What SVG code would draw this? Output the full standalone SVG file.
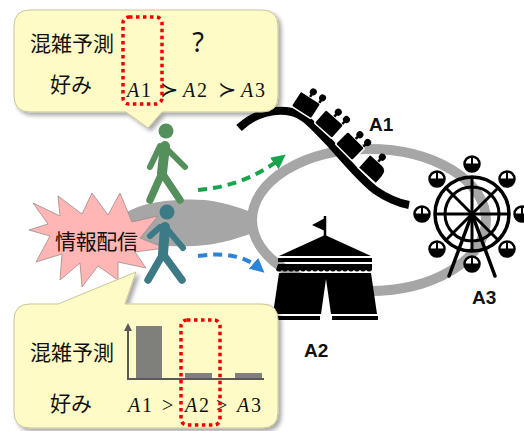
<svg xmlns="http://www.w3.org/2000/svg" width="524" height="431" viewBox="0 0 524 431">
  <defs>
    <filter id="shadow" x="-10%" y="-10%" width="125%" height="130%">
      <feGaussianBlur in="SourceAlpha" stdDeviation="2"/>
      <feOffset dx="3" dy="3" result="b"/>
      <feComponentTransfer><feFuncA type="linear" slope="0.35"/></feComponentTransfer>
      <feMerge><feMergeNode/><feMergeNode in="SourceGraphic"/></feMerge>
    </filter>
    <marker id="arrGreen" viewBox="0 0 10 10" refX="5" refY="5" markerWidth="3.6" markerHeight="3.6" orient="auto" markerUnits="strokeWidth">
      <path d="M0,0 L10,5 L0,10 Z" fill="#16a54a"/>
    </marker>
    <marker id="arrBlue" viewBox="0 0 10 10" refX="5" refY="5" markerWidth="3.6" markerHeight="3.6" orient="auto" markerUnits="strokeWidth">
      <path d="M0,0 L10,5 L0,10 Z" fill="#2b84d6"/>
    </marker>
    <g id="gondola">
      <circle r="7.5" fill="#fff" stroke="#000" stroke-width="2.5"/>
      <path d="M-7.5,0 A7.5,7.5 0 0 0 7.5,0 Z" fill="#000"/>
      <line x1="0" y1="-7" x2="0" y2="0" stroke="#000" stroke-width="2"/>
    </g>
    <g id="car">
      <rect x="-12" y="-9" width="24" height="18" rx="2" fill="#000" stroke="#fff" stroke-width="1.5"/>
      <line x1="-1" y1="-9" x2="-1" y2="-14" stroke="#000" stroke-width="2.5"/>
      <line x1="10" y1="-9" x2="10" y2="-14" stroke="#000" stroke-width="2.5"/>
      <circle cx="-1" cy="-15" r="3.5" fill="#000"/>
      <circle cx="10" cy="-15" r="3.5" fill="#000"/>
    </g>
  </defs>
  <style>
    .callout { fill: #fefbc6; stroke: #c9c59a; stroke-width: 1; }
    .jp { font-family: "Noto Sans CJK JP", "Noto Sans", sans-serif; font-size: 21px; fill: #111; }
    .math { font-family: "Liberation Serif", "DejaVu Serif", serif; font-size: 20px; fill: #111; }
    .mathi { font-style: italic; }
    .rel { font-family: "DejaVu Serif", "Liberation Serif", serif; font-size: 22px; }
    .label { font-family: "Liberation Sans", Arial, sans-serif; font-weight: bold; font-size: 19px; fill: #111; }
    .dotbox { fill: none; stroke: #f00000; stroke-width: 3.5; stroke-dasharray: 3.5 3.5; }
    .ring { fill: none; stroke: #a6a6a6; stroke-width: 10; }
    .limb { fill: none; stroke-linecap: round; stroke-linejoin: round; }
  </style>

  <rect width="524" height="431" fill="#fff"/>

  <!-- park path: crowd lens and loop -->
  <g id="park-path">
    <path d="M118,225 C118,205 170,197 205,200 C230,203 245,210 256,214 L256,232 C240,237 225,244 195,246 C150,248 118,240 118,225 Z" fill="#a6a6a6"/>
    <ellipse class="ring" cx="369" cy="220" rx="117" ry="71"/>
  </g>

  <!-- A1: roller coaster -->
  <g id="coaster">
    <path d="M239,128 C255,113 275,108 292,112 C305,115 315,128 330,143 C345,160 360,178 375,190 C388,199 398,203 409,205" fill="none" stroke="#000" stroke-width="8"/>
    <use href="#car" transform="translate(306,105) rotate(33)"/>
    <use href="#car" transform="translate(329,124) rotate(42)"/>
    <use href="#car" transform="translate(350,146) rotate(45)"/>
    <g transform="translate(373,169) rotate(42)">
      <path d="M-12,-9 H4 Q12,-9 12,0 V9 H-12 Z" fill="#000" stroke="#fff" stroke-width="1.5"/>
      <line x1="-1" y1="-9" x2="-1" y2="-14" stroke="#000" stroke-width="2.5"/>
      <circle cx="-1" cy="-15" r="3.5" fill="#000"/>
    </g>
    <text class="label" x="369" y="131">A1</text>
  </g>

  <!-- A3: ferris wheel -->
  <g id="ferris-wheel" stroke="#000" fill="none">
    <circle cx="472" cy="214" r="37" stroke-width="3.5"/>
    <circle cx="472" cy="214" r="27" stroke-width="3"/>
    <g stroke-width="3">
      <line x1="435" y1="214" x2="509" y2="214"/>
      <line x1="472" y1="177" x2="472" y2="251"/>
      <line x1="446" y1="188" x2="498" y2="240"/>
      <line x1="498" y1="188" x2="446" y2="240"/>
    </g>
    <g stroke-width="3.5" stroke-linecap="round">
      <line x1="472" y1="214" x2="449" y2="276"/>
      <line x1="472" y1="214" x2="495" y2="276"/>
    </g>
    <use href="#gondola" x="472" y="164"/>
    <use href="#gondola" x="507" y="179"/>
    <use href="#gondola" x="522" y="214"/>
    <use href="#gondola" x="507" y="249"/>
    <use href="#gondola" x="472" y="264"/>
    <use href="#gondola" x="437" y="249"/>
    <use href="#gondola" x="422" y="214"/>
    <use href="#gondola" x="437" y="179"/>
    <text class="label" x="472" y="304" stroke="none">A3</text>
  </g>

  <!-- A2: circus tent -->
  <g id="tent">
    <line x1="325" y1="237" x2="325" y2="216" stroke="#000" stroke-width="2.5"/>
    <polygon points="325,218 312,225 325,231" fill="#000"/>
    <polygon points="279,256 325,235 371,256" fill="#000"/>
    <rect x="278" y="258" width="94" height="4" fill="#000"/>
    <path d="M278,264 H372 V270 q-3,3 -6,0 q-3,3 -6,0 q-3,3 -6,0 q-3,3 -6,0 q-3,3 -6,0 q-3,3 -6,0 q-3,3 -6,0 q-3,3 -6,0 q-3,3 -6,0 q-3,3 -6,0 q-3,3 -6,0 q-3,3 -6,0 q-3,3 -6,0 q-3,3 -6,0 q-3,3 -6,0 q-3,3 -6,0 Z" fill="#000"/>
    <polygon points="279,273 371,273 377,314 273,314" fill="#000"/>
    <polygon points="326,279 321,314 331,314" fill="#fff"/>
    <rect x="273" y="316" width="47" height="4" fill="#000"/>
    <rect x="332" y="316" width="46" height="4" fill="#000"/>
    <text class="label" x="304" y="357">A2</text>
  </g>

  <!-- connectors -->
  <g id="connectors" fill="none" stroke-width="4" stroke-dasharray="9 6">
    <path d="M198,190 Q245,186 280,159" stroke="#16a54a" marker-end="url(#arrGreen)"/>
    <path d="M198,256 Q238,250 259,268" stroke="#2b84d6" marker-end="url(#arrBlue)"/>
  </g>

  <!-- information broadcast burst -->
  <g id="broadcast">
    <polygon points="29,230 50,236 36,262 62,254 60,280 80,263 82,287 98,266 118,280 118,262 146,268 135,252 165,248 140,238 158,216 132,222 120,193 108,215 92,193 82,214 58,196 60,216 33,203 48,224" fill="#ffb6b4" stroke="#a08a8a" stroke-width="0.8"/>
    <text class="jp" x="55" y="249" textLength="83">情報配信</text>
  </g>

  <!-- visitor who ignores congestion -->
  <g id="visitor-green" stroke="#548f5c" class="limb">
    <circle cx="166" cy="131" r="7.5" fill="#548f5c" stroke="none"/>
    <line x1="165" y1="146" x2="162" y2="173" stroke-width="10"/>
    <polyline points="150,167 160,146 166,148 185,167" stroke-width="6"/>
    <polyline points="150,200 162,173 180,200" stroke-width="7.5"/>
  </g>

  <!-- visitor who follows congestion forecast -->
  <g id="visitor-teal" stroke="#3c7b85" class="limb">
    <circle cx="167" cy="212" r="7.5" fill="#3c7b85" stroke="none"/>
    <line x1="165" y1="227" x2="163" y2="254" stroke-width="10"/>
    <polyline points="150,236 160,227 167,229 183,248" stroke-width="6"/>
    <polyline points="148,280 163,254 182,280" stroke-width="7.5"/>
  </g>

  <!-- callout: preference only -->
  <g id="callout-top" filter="url(#shadow)">
    <path class="callout" d="M30,10 H262 Q278,10 278,26 V96 Q278,112 262,112 H162 L148,128 L126,112 H30 Q14,112 14,96 V26 Q14,10 30,10 Z"/>
  </g>
  <g id="callout-top-text">
    <text class="jp" x="30" y="51">混雑予測</text>
    <text x="198" y="52" text-anchor="middle" font-family="'Noto Sans', 'Liberation Sans', sans-serif" font-size="27" fill="#111">?</text>
    <text class="jp" x="50" y="92">好み</text>
    <text class="math" y="97"><tspan class="mathi" x="127">A</tspan><tspan x="141">1</tspan><tspan class="rel" x="160">≻</tspan><tspan class="mathi" x="183">A</tspan><tspan x="197">2</tspan><tspan class="rel" x="218">≻</tspan><tspan class="mathi" x="241">A</tspan><tspan x="255">3</tspan></text>
    <rect class="dotbox" x="123" y="17" width="39" height="87" rx="6"/>
  </g>

  <!-- callout: preference and congestion forecast -->
  <g id="callout-bottom" filter="url(#shadow)">
    <path class="callout" d="M30,304 H58 L136,272 L125,304 H262 Q278,304 278,320 V412 Q278,428 262,428 H30 Q14,428 14,412 V320 Q14,304 30,304 Z"/>
  </g>
  <g id="callout-bottom-text">
    <text class="jp" x="30" y="360">混雑予測</text>
    <text class="jp" x="50" y="411">好み</text>
    <g id="forecast-chart">
      <rect x="136" y="326" width="26" height="53" fill="#7f7f7b"/>
      <rect x="185" y="373" width="27" height="6" fill="#7f7f7b"/>
      <rect x="235" y="373" width="27" height="6" fill="#7f7f7b"/>
      <line x1="128" y1="379" x2="264" y2="379" stroke="#595959" stroke-width="2"/>
      <line x1="128" y1="380" x2="128" y2="330" stroke="#595959" stroke-width="2"/>
      <polygon points="128,323 124,331 132,331" fill="#595959"/>
    </g>
    <text class="math" y="412"><tspan class="mathi" x="128">A</tspan><tspan x="142">1</tspan><tspan x="162">&gt;</tspan><tspan class="mathi" x="185">A</tspan><tspan x="199">2</tspan><tspan x="216">&gt;</tspan><tspan class="mathi" x="237">A</tspan><tspan x="251">3</tspan></text>
    <rect class="dotbox" x="181" y="320" width="39" height="105" rx="6"/>
  </g>
</svg>
